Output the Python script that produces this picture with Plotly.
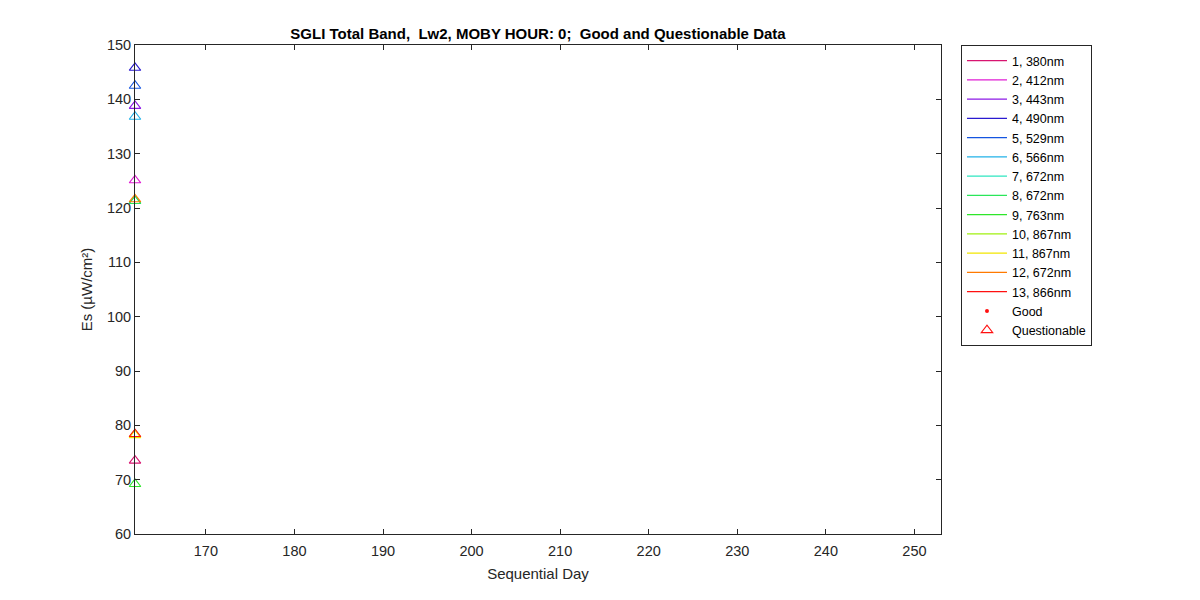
import plotly.graph_objects as go

# bands: label, colour, questionable Es value at the single day
band_labels = ["1, 380nm", "2, 412nm", "3, 443nm", "4, 490nm", "5, 529nm",
               "6, 566nm", "7, 672nm", "8, 672nm", "9, 763nm", "10, 867nm",
               "11, 867nm", "12, 672nm", "13, 866nm"]
band_colors = ["#d81470", "#e01ed4", "#8c1ae6", "#2a1ad0", "#1455e0",
               "#22b2e8", "#2ee6c0", "#2ae65a", "#2ee62a", "#a0f010",
               "#f2e600", "#ff7a00", "#ff1010"]
quest_day = [162, 162, 162, 162, 162, 162, 162, 162, 162, 162, 162, 162, 162]
quest_es = [73.5, 125.1, 138.8, 145.8, 142.5, 136.8, 121.3, 121.3, 69.2,
            78.3, 78.2, 121.6, 78.4]

x_ticks = [170, 180, 190, 200, 210, 220, 230, 240, 250]
y_ticks = [60, 70, 80, 90, 100, 110, 120, 130, 140, 150]

AX = "#262626"
FONT = "Liberation Sans, Arial, sans-serif"

fig = go.Figure()

# legend-only line entries
for lab, col in zip(band_labels, band_colors):
    fig.add_trace(go.Scatter(x=[None], y=[None], mode="lines", name=lab,
                             line=dict(color=col, width=1.2)))

fig.add_trace(go.Scatter(x=[None], y=[None], mode="markers", name="Good",
                         marker=dict(symbol="circle", size=4, color="#ff1010")))
fig.add_trace(go.Scatter(x=[None], y=[None], mode="markers", name="Questionable",
                         marker=dict(symbol="triangle-up-open", size=10,
                                     color="#ff1010", line=dict(width=1.1))))

# questionable points, one trace per band
for i, col in enumerate(band_colors):
    fig.add_trace(go.Scatter(x=[quest_day[i]], y=[quest_es[i]], mode="markers",
                             showlegend=False, cliponaxis=False,
                             marker=dict(symbol="triangle-up-open", size=10,
                                         color=col, line=dict(width=1.1, color=col))))

# page body adds 8px, so margins are shifted to compensate
fig.update_layout(
    width=1200, height=600,
    paper_bgcolor="white", plot_bgcolor="white",
    margin=dict(l=127, r=267, t=37, b=74),
    font=dict(family=FONT, size=14.5, color=AX),
    title=dict(text="<b>SGLI Total Band,  Lw2, MOBY HOUR: 0;  Good and Questionable Data</b>",
               x=(127 + 933) / 2 / 1200, xanchor="center", y=1 - 26 / 600, yanchor="middle",
               font=dict(size=15, color="black")),
    legend=dict(x=1.0248, y=1.0, xanchor="left", yanchor="top",
                bordercolor=AX, borderwidth=1, bgcolor="white",
                font=dict(size=12.5, color="black"), tracegroupgap=0,
                itemwidth=40),
    showlegend=True,
)

fig.update_xaxes(range=[162, 253], tickvals=x_ticks, ticks="inside", ticklen=5,
                 tickcolor=AX, showline=True, linecolor=AX, linewidth=1,
                 mirror="ticks", showgrid=False, zeroline=False, ticklabelstandoff=4,
                 title=dict(text="Sequential Day", standoff=10, font=dict(size=15)))
fig.update_yaxes(range=[60, 150], tickvals=y_ticks, ticks="inside", ticklen=5,
                 tickcolor=AX, showline=True, linecolor=AX, linewidth=1,
                 mirror="ticks", showgrid=False, zeroline=False,
                 title=dict(text="Es (µW/cm²)", standoff=10, font=dict(size=15)))

fig.write_html("out.html")
